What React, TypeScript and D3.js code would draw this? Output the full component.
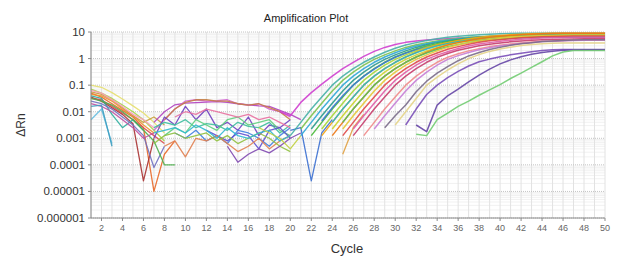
import * as d3 from "d3";

// log10(ΔRn) per cycle, each curve starts at its start cycle
const risingStart = [19, 20, 21, 21, 22, 22, 23, 23, 23, 24, 24, 24, 25, 25, 25, 26, 26, 27, 28, 29, 30, 31, 32, 32];
const risingLogRn = [
  [-2.0, -2.15, -1.65, -1.28, -0.96, -0.66, -0.38, -0.14, 0.08, 0.27, 0.42, 0.53, 0.61, 0.66, 0.7, 0.73, 0.75, 0.77, 0.78, 0.79, 0.8, 0.81, 0.82, 0.82, 0.83, 0.83, 0.84, 0.84, 0.84, 0.85, 0.85, 0.85],
  [-2.9, -2.4, -1.9, -1.45, -1.0, -0.66, -0.38, -0.14, 0.06, 0.24, 0.39, 0.51, 0.6, 0.68, 0.75, 0.8, 0.84, 0.87, 0.9, 0.92, 0.93, 0.94, 0.95, 0.95, 0.95, 0.95, 0.95, 0.95, 0.95, 0.95, 0.95],
  [-2.65, -2.15, -1.68, -1.22, -0.82, -0.51, -0.25, -0.03, 0.14, 0.29, 0.42, 0.52, 0.6, 0.66, 0.72, 0.76, 0.8, 0.82, 0.84, 0.85, 0.86, 0.87, 0.88, 0.88, 0.88, 0.88, 0.88, 0.88, 0.88, 0.88],
  [-2.9, -2.4, -1.9, -1.45, -1.0, -0.66, -0.38, -0.14, 0.06, 0.22, 0.36, 0.47, 0.56, 0.63, 0.69, 0.74, 0.78, 0.81, 0.83, 0.85, 0.86, 0.87, 0.88, 0.88, 0.88, 0.88, 0.88, 0.88, 0.88, 0.88],
  [-2.65, -2.15, -1.68, -1.22, -0.82, -0.51, -0.25, -0.03, 0.14, 0.29, 0.42, 0.52, 0.6, 0.66, 0.72, 0.76, 0.8, 0.82, 0.84, 0.85, 0.86, 0.87, 0.87, 0.87, 0.87, 0.87, 0.87, 0.87, 0.87],
  [-2.9, -2.4, -1.9, -1.45, -1.0, -0.66, -0.38, -0.14, 0.06, 0.22, 0.36, 0.47, 0.56, 0.63, 0.69, 0.74, 0.78, 0.81, 0.83, 0.85, 0.86, 0.87, 0.88, 0.88, 0.88, 0.88, 0.88, 0.88, 0.88],
  [-2.35, -1.85, -1.4, -1.0, -0.67, -0.4, -0.15, 0.05, 0.2, 0.33, 0.43, 0.51, 0.57, 0.63, 0.67, 0.71, 0.74, 0.76, 0.77, 0.78, 0.79, 0.8, 0.8, 0.8, 0.8, 0.8, 0.8, 0.8],
  [-2.65, -2.15, -1.68, -1.22, -0.82, -0.51, -0.25, -0.03, 0.14, 0.29, 0.42, 0.52, 0.6, 0.66, 0.72, 0.76, 0.8, 0.82, 0.84, 0.85, 0.86, 0.87, 0.88, 0.88, 0.88, 0.88, 0.88, 0.88],
  [-2.9, -2.4, -1.9, -1.45, -1.0, -0.66, -0.38, -0.14, 0.06, 0.24, 0.39, 0.51, 0.6, 0.68, 0.75, 0.8, 0.84, 0.87, 0.9, 0.92, 0.93, 0.94, 0.95, 0.95, 0.95, 0.95, 0.95, 0.95],
  [-2.4, -1.9, -1.45, -1.0, -0.66, -0.38, -0.14, 0.06, 0.22, 0.36, 0.47, 0.56, 0.63, 0.69, 0.74, 0.78, 0.81, 0.83, 0.85, 0.86, 0.87, 0.88, 0.88, 0.88, 0.88, 0.88, 0.88],
  [-2.65, -2.15, -1.68, -1.22, -0.82, -0.51, -0.25, -0.03, 0.14, 0.29, 0.42, 0.52, 0.6, 0.66, 0.72, 0.76, 0.8, 0.82, 0.84, 0.85, 0.86, 0.87, 0.88, 0.88, 0.88, 0.88, 0.88],
  [-2.9, -2.4, -1.9, -1.45, -1.0, -0.66, -0.38, -0.14, 0.06, 0.24, 0.39, 0.51, 0.6, 0.68, 0.75, 0.8, 0.84, 0.87, 0.9, 0.92, 0.93, 0.94, 0.95, 0.95, 0.95, 0.95, 0.95],
  [-2.4, -1.9, -1.45, -1.0, -0.66, -0.38, -0.14, 0.06, 0.21, 0.34, 0.45, 0.53, 0.6, 0.66, 0.71, 0.74, 0.77, 0.79, 0.81, 0.82, 0.83, 0.84, 0.84, 0.84, 0.84, 0.84],
  [-2.65, -2.15, -1.68, -1.22, -0.82, -0.51, -0.25, -0.03, 0.14, 0.29, 0.42, 0.52, 0.6, 0.66, 0.72, 0.76, 0.8, 0.82, 0.84, 0.85, 0.86, 0.87, 0.88, 0.88, 0.88, 0.88],
  [-2.9, -2.4, -1.9, -1.45, -1.0, -0.66, -0.38, -0.14, 0.06, 0.21, 0.35, 0.45, 0.54, 0.61, 0.67, 0.71, 0.75, 0.78, 0.8, 0.82, 0.83, 0.84, 0.85, 0.85, 0.85, 0.85],
  [-2.65, -2.15, -1.68, -1.22, -0.82, -0.51, -0.25, -0.03, 0.13, 0.26, 0.38, 0.47, 0.55, 0.6, 0.65, 0.69, 0.73, 0.75, 0.77, 0.78, 0.79, 0.8, 0.8, 0.8, 0.8],
  [-2.9, -2.4, -1.9, -1.45, -1.0, -0.66, -0.38, -0.14, 0.05, 0.19, 0.31, 0.4, 0.48, 0.54, 0.59, 0.63, 0.66, 0.69, 0.71, 0.72, 0.73, 0.74, 0.75, 0.75, 0.75],
  [-2.9, -2.4, -1.9, -1.45, -1.0, -0.66, -0.38, -0.14, 0.05, 0.18, 0.29, 0.37, 0.45, 0.5, 0.55, 0.59, 0.62, 0.65, 0.66, 0.68, 0.69, 0.7, 0.7, 0.7],
  [-2.65, -2.15, -1.68, -1.22, -0.82, -0.51, -0.25, -0.03, 0.11, 0.23, 0.33, 0.41, 0.48, 0.52, 0.57, 0.6, 0.64, 0.65, 0.67, 0.68, 0.69, 0.7, 0.7],
  [-2.6, -2.15, -1.75, -1.25, -0.85, -0.55, -0.3, -0.08, 0.1, 0.23, 0.34, 0.43, 0.5, 0.56, 0.6, 0.64, 0.66, 0.68, 0.7, 0.71, 0.71, 0.71],
  [-2.5, -2.0, -1.5, -1.0, -0.7, -0.43, -0.2, 0.0, 0.15, 0.27, 0.36, 0.43, 0.49, 0.53, 0.56, 0.58, 0.59, 0.59, 0.59, 0.59, 0.59],
  [-2.5, -1.9, -1.35, -1.0, -0.72, -0.48, -0.28, -0.12, -0.02, 0.07, 0.14, 0.2, 0.26, 0.3, 0.33, 0.34, 0.34, 0.34, 0.34, 0.34],
  [-2.5, -2.75, -1.75, -1.4, -1.15, -0.88, -0.62, -0.4, -0.2, -0.05, 0.07, 0.16, 0.23, 0.28, 0.31, 0.32, 0.33, 0.33, 0.33],
  [-2.85, -2.9, -2.3, -2.05, -1.8, -1.6, -1.38, -1.18, -0.98, -0.75, -0.55, -0.33, -0.12, 0.1, 0.25, 0.3, 0.3, 0.3, 0.3],
];

// early baseline drift, cycles 1..9
const earlyStart = [1, 1, 1, 1, 1, 1, 1, 1, 1, 1, 1, 1, 1, 1];
const earlyLogRn = [
  [-1.0, -1.08, -1.28, -1.52, -1.78, -2.05, -2.4, -2.8],
  [-1.15, -1.3, -1.5, -1.75, -2.0, -2.3, -2.7, -3.1],
  [-1.3, -1.45, -1.7, -1.95, -2.2, -2.6, -5.0, -3.6, -3.1],
  [-1.45, -1.6, -1.85, -2.1, -2.45, -4.6, -3.0],
  [-1.5, -1.55, -1.8, -2.05, -2.3, -2.6, -2.9, -3.2],
  [-1.35, -1.4, -1.6, -1.9, -2.15, -2.5, -2.8],
  [-1.4, -1.5, -2.1, -2.6, -2.3, -2.7],
  [-2.3, -1.9, -3.2],
  [-1.6, -1.7, -1.9, -2.2, -2.5, -2.9, -4.1, -3.3],
  [-1.5, -1.6, -1.75, -2.0, -2.3, -2.7, -3.1, -4.0, -4.0],
  [-1.7, -1.8, -2.0, -2.3, -2.6, -3.0, -2.8],
  [-1.25, -1.35, -1.55, -1.85, -2.15, -2.4, -2.2, -2.5],
  [-1.8, -1.75, -3.3],
  [-1.2, -1.3, -1.55, -1.8, -2.1, -2.3, -2.6],
];

// mid-run noise before take-off
const midStart = [7, 7, 8, 7, 7, 8, 9, 12, 8, 7, 14, 9, 7, 17, 20, 25];
const midLogRn = [
  [-2.4, -2.0, -1.74, -1.68, -1.66, -1.64, -1.62, -1.65, -1.7, -1.74, -1.78, -1.8, -1.95, -2.1, -2.3],
  [-2.7, -2.3, -1.9, -1.6, -1.55, -1.6, -1.58, -1.55, -1.7, -1.75, -1.7, -1.9, -2.0, -2.2],
  [-2.3, -1.9, -1.65, -1.55, -1.55, -1.6, -1.6, -1.7, -1.75, -1.7, -1.85, -2.0, -2.3],
  [-3.0, -2.2, -2.5, -1.8, -2.3, -1.9, -2.6, -2.4, -2.7, -2.2, -2.9, -2.5, -2.6, -2.3],
  [-2.6, -2.4, -2.5, -2.3, -2.6, -2.45, -2.5, -2.7, -2.4, -2.55, -2.6, -2.4, -2.8, -2.5],
  [-2.9, -2.6, -2.8, -2.3, -2.5, -2.7, -2.3, -2.2, -2.5, -2.4, -2.3, -2.7, -2.9],
  [-2.8, -3.0, -2.7, -3.1, -2.9, -3.2, -2.7, -2.8, -3.0, -3.3, -2.9, -2.6],
  [-2.7, -2.9, -3.1, -2.8, -2.9, -3.4, -2.7, -2.6, -3.0],
  [-3.3, -3.1, -3.7, -3.0, -3.1, -2.9, -3.2, -3.5, -3.3, -3.0, -3.4, -3.1, -2.9],
  [-3.2, -2.9, -2.8, -3.0, -2.9, -2.8, -3.1, -2.9, -3.2, -3.0, -2.8, -3.0, -3.3, -3.5],
  [-3.3, -3.9, -3.6, -3.4, -3.55, -3.3, -3.0, -2.8],
  [-2.2, -2.0, -2.1, -1.9, -2.0, -2.1, -2.2, -2.1, -2.3, -2.2, -2.4, -2.6],
  [-2.8, -2.7, -2.6, -2.8, -2.5, -2.7, -3.0, -2.6, -2.9, -3.0, -2.8, -2.7, -3.1, -2.9],
  [-2.6, -2.8, -3.0, -3.4, -2.9],
  [-2.7, -2.6, -4.6, -2.8, -2.3],
  [-3.6, -2.6, -2.1],
];

const yTickValues = [10, 1, 0.1, 0.01, 0.001, 0.0001, 0.00001, 0.000001];
const yTickLabels = ["10", "1", "0.1", "0.01", "0.001", "0.0001", "0.00001", "0.000001"];
const xTickValues = [2, 4, 6, 8, 10, 12, 14, 16, 18, 20, 22, 24, 26, 28, 30, 32, 34, 36, 38, 40, 42, 44, 46, 48, 50];

const risingColors = [
  "#cf3fcf", "#46b0a6", "#7cc24e", "#2fa7d6", "#2a9a8c", "#49b93a", "#3c78d6", "#a6d636",
  "#f2a414", "#28b5c8", "#cbd42c", "#ec7714", "#58c058", "#e6c836", "#e04848", "#e05ca6",
  "#c63c6c", "#f08a8a", "#c67ed6", "#7a6c8a", "#e4d488", "#7a4fb8", "#6646a6", "#72cc72",
];
const earlyColors = [
  "#e6df6e", "#a6d646", "#e8692a", "#a83232", "#d84e4e", "#f0902e", "#2eae9e",
  "#66bee0", "#7070c0", "#4eae4e", "#c04ea0", "#c89e3e", "#3e9ec0", "#fb9cbe",
];
const midColors = [
  "#b040c0", "#d060d0", "#c47e44", "#7040c0", "#3ebe9e", "#5ecf7e", "#4080e0", "#6050d0",
  "#e08050", "#90c040", "#8048b0", "#e870a0", "#30b8d0", "#c0d040", "#3a6fd0", "#e0a040",
];

const W = 617;
const H = 261;
const left = 91;
const right = 605;
const top = 32;
const bottom = 218;
const font = "'Liberation Sans', Arial, sans-serif";

export default function App() {
  const x = d3.scaleLinear().domain([1, 50]).range([left, right]);
  const y = d3.scaleLog().domain([1e-6, 10]).range([bottom, top]);

  const line = d3
    .line<[number, number]>()
    .x((d) => x(d[0]))
    .y((d) => y(Math.pow(10, d[1])));

  const toPts = (start: number, vals: number[]) =>
    vals.map((v, i) => [start + i, v] as [number, number]);

  const cycles = d3.range(1, 51);
  const minor: number[] = [];
  for (let e = -6; e < 1; e++) {
    for (let m = 2; m < 10; m++) minor.push(m * Math.pow(10, e));
  }

  const group = (starts: number[], vals: number[][], colors: string[], key: string, w: number) =>
    vals.map((v, i) => (
      <path
        key={key + i}
        d={line(toPts(starts[i], v)) || ""}
        fill="none"
        stroke={colors[i]}
        strokeWidth={w}
        strokeOpacity={0.9}
        strokeLinejoin="round"
      />
    ));

  return (
    <svg width={W} height={H} style={{ position: "absolute", left: 0, top: 0, background: "#fff" }}>
      <rect width={W} height={H} fill="#fff" />
      {/* grid */}
      <g>
        {minor.map((m, i) => (
          <line key={"mn" + i} x1={left} x2={right} y1={y(m)} y2={y(m)} stroke="#f1f1f1" />
        ))}
        {cycles.map((c) => (
          <line key={"vc" + c} x1={x(c)} x2={x(c)} y1={top} y2={bottom} stroke="#e2e2e2" />
        ))}
        {yTickValues.map((t, i) => (
          <line key={"mj" + i} x1={left} x2={right} y1={y(t)} y2={y(t)} stroke="#c4c4c4" strokeDasharray="1,1" />
        ))}
      </g>

      {group(earlyStart, earlyLogRn, earlyColors, "e", 1.3)}
      {group(midStart, midLogRn, midColors, "m", 1.3)}
      {group(risingStart, risingLogRn, risingColors, "r", 1.5)}

      {/* axes */}
      <line x1={left} x2={left} y1={top} y2={bottom} stroke="#8a8a8a" />
      <line x1={left} x2={right} y1={bottom} y2={bottom} stroke="#8a8a8a" />
      {xTickValues.map((t) => (
        <g key={"xt" + t}>
          <line x1={x(t)} x2={x(t)} y1={bottom} y2={bottom + 3} stroke="#8a8a8a" />
          <text x={x(t)} y={231} fontSize={9} fontFamily={font} fill="#666" textAnchor="middle">
            {t}
          </text>
        </g>
      ))}
      {yTickValues.map((t, i) => (
        <g key={"yt" + i}>
          <line x1={left - 3} x2={left} y1={y(t)} y2={y(t)} stroke="#8a8a8a" />
          <text x={85} y={y(t)} dy="0.35em" fontSize={11.5} fontFamily={font} fill="#333" textAnchor="end">
            {yTickLabels[i]}
          </text>
        </g>
      ))}

      <text x={306} y={22} fontSize={11} fontFamily={font} fill="#222" textAnchor="middle">
        Amplification Plot
      </text>
      <text x={347} y={253} fontSize={13} fontFamily={font} fill="#333" textAnchor="middle">
        Cycle
      </text>
      <text
        transform={`translate(25,${(top + bottom) / 2}) rotate(-90)`}
        fontSize={12}
        fontFamily={font}
        fill="#333"
        textAnchor="middle"
      >
        ΔRn
      </text>
    </svg>
  );
}
